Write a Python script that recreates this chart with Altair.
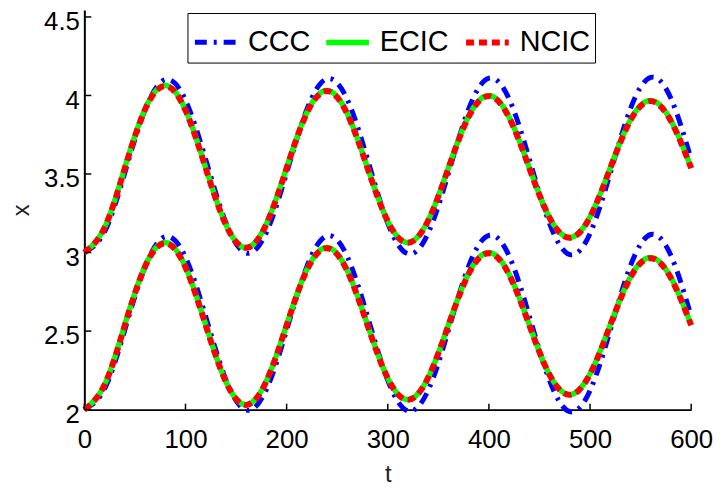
import altair as alt
import pandas as pd

# ---- data ----
t_vals = [0, 20, 40, 60, 80, 100, 120, 140, 160, 180, 200, 220, 240, 260, 280, 300,
          320, 340, 360, 380, 400, 420, 440, 460, 480, 500, 520, 540, 560, 580, 600]

ccc_upper = [3.002, 3.132, 3.507, 3.908, 4.101, 3.970, 3.593, 3.190, 2.997, 3.128, 3.507,
             3.911, 4.106, 3.974, 3.594, 3.187, 2.992, 3.124, 3.506, 3.914, 4.110, 3.978,
             3.594, 3.184, 2.987, 3.121, 3.506, 3.917, 4.115, 3.981, 3.594]
ecic_upper = [3.000, 3.161, 3.540, 3.913, 4.064, 3.908, 3.540, 3.178, 3.032, 3.184, 3.540,
              3.891, 4.032, 3.885, 3.540, 3.201, 3.064, 3.206, 3.540, 3.868, 4.000, 3.862,
              3.540, 3.223, 3.096, 3.229, 3.540, 3.845, 3.968, 3.840, 3.540]
ncic_upper = [3.000, 3.158, 3.536, 3.910, 4.060, 3.905, 3.537, 3.176, 3.030, 3.181, 3.537,
              3.888, 4.028, 3.882, 3.537, 3.199, 3.062, 3.204, 3.537, 3.865, 3.996, 3.859,
              3.537, 3.221, 3.094, 3.226, 3.537, 3.842, 3.964, 3.837, 3.537]

ccc_lower = [2.002, 2.132, 2.507, 2.908, 3.101, 2.970, 2.593, 2.190, 1.997, 2.128, 2.507,
             2.911, 3.106, 2.974, 2.594, 2.187, 1.992, 2.124, 2.506, 2.914, 3.110, 2.978,
             2.594, 2.184, 1.987, 2.121, 2.506, 2.917, 3.115, 2.981, 2.594]
ecic_lower = [2.000, 2.161, 2.540, 2.913, 3.064, 2.908, 2.540, 2.178, 2.032, 2.184, 2.540,
              2.891, 3.032, 2.885, 2.540, 2.201, 2.064, 2.206, 2.540, 2.868, 3.000, 2.862,
              2.540, 2.223, 2.096, 2.229, 2.540, 2.845, 2.968, 2.840, 2.540]
ncic_lower = [2.000, 2.158, 2.536, 2.910, 3.060, 2.905, 2.537, 2.176, 2.030, 2.181, 2.537,
              2.888, 3.028, 2.882, 2.537, 2.199, 2.062, 2.204, 2.537, 2.865, 2.996, 2.859,
              2.537, 2.221, 2.094, 2.226, 2.537, 2.842, 2.964, 2.837, 2.537]

series_names = ["CCC", "ECIC", "NCIC"]
x_ticks = [0, 100, 200, 300, 400, 500, 600]
y_ticks = [2, 2.5, 3, 3.5, 4, 4.5]

# ---- styles ----
colors = ["#0000ff", "#00ff00", "#ff0000"]
dashes = [[12, 7, 3, 7], [1, 0], [8, 5]]
widths = [5, 6, 3]
FONT = "Liberation Sans"
W, H = 612, 403
X_DOMAIN = [0, 600]
Y_DOMAIN = [2, 4.544]

rows = []
for name, branch, vals in [
    ("CCC", "upper", ccc_upper), ("CCC", "lower", ccc_lower),
    ("ECIC", "upper", ecic_upper), ("ECIC", "lower", ecic_lower),
    ("NCIC", "upper", ncic_upper), ("NCIC", "lower", ncic_lower),
]:
    for t, v in zip(t_vals, vals):
        rows.append({"t": t, "x": v, "series": name, "branch": branch})
df = pd.DataFrame(rows)


def x_enc():
    return alt.X("t:Q", scale=alt.Scale(domain=X_DOMAIN, nice=False, zero=False),
                 axis=alt.Axis(values=x_ticks, labelFlush=False, labelOverlap=False,
                               labelPadding=17, titleY=72, titleBaseline="alphabetic"),
                 title="t")


def y_enc():
    return alt.Y("x:Q", scale=alt.Scale(domain=Y_DOMAIN, nice=False, zero=False),
                 axis=alt.Axis(values=y_ticks, format="~g", labelFlush=False, labelOverlap=False,
                               labelPadding=5, labelOffset=5, titleX=-63, titleY=H / 2,
                               titleAngle=270, titleBaseline="middle", titleAlign="center"),
                 title="x")


def line_layer(name):
    return alt.Chart(df).transform_filter(alt.datum.series == name).mark_line(
        interpolate="natural"
    ).encode(
        x=x_enc(),
        y=y_enc(),
        color=alt.Color("series:N", scale=alt.Scale(domain=series_names, range=colors), title=None),
        strokeDash=alt.StrokeDash("series:N", scale=alt.Scale(domain=series_names, range=dashes), title=None),
        strokeWidth=alt.StrokeWidth("series:N", scale=alt.Scale(domain=series_names, range=widths), title=None),
        detail="branch:N",
    )


xtick_df = pd.DataFrame({"t": x_ticks})
ytick_df = pd.DataFrame({"x": y_ticks})

xticks_layer = alt.Chart(xtick_df).mark_rule(color="black", strokeWidth=1.5).encode(
    x=x_enc(), y=alt.value(H), y2=alt.value(H - 6)
)
yticks_layer = alt.Chart(ytick_df).mark_rule(color="black", strokeWidth=1.5).encode(
    y=y_enc(), x=alt.value(0), x2=alt.value(7)
)

chart = alt.layer(
    line_layer("CCC"), line_layer("ECIC"), line_layer("NCIC"), xticks_layer, yticks_layer
).properties(
    width=W, height=H,
    padding={"left": 77, "top": 0, "right": 22, "bottom": 78},
    autosize=alt.AutoSizeParams(type="none"),
).configure_view(stroke=None).configure_axis(
    domainColor="black", domainWidth=2, ticks=False, grid=False,
    labelFont=FONT, labelFontSize=26, labelColor="black",
    titleFont=FONT, titleFontSize=24, titleFontWeight="normal", titleColor="#222222",
).configure_legend(
    orient="none", legendX=104, legendY=3, direction="horizontal",
    padding=5, strokeColor="black", fillColor="white", cornerRadius=0,
    labelFont=FONT, labelFontSize=29, labelColor="black", labelOffset=8,
    symbolSize=1849, symbolType="stroke", columnPadding=5,
)

chart.save("out.html", embed_options={"renderer": "svg", "actions": False})
